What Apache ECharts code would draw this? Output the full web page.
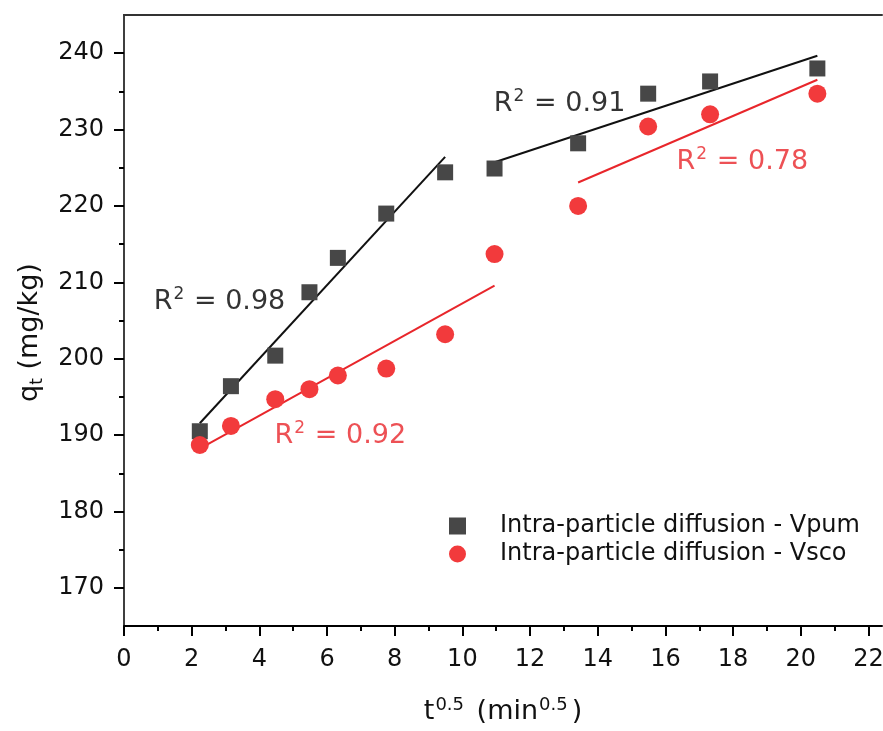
<!DOCTYPE html>
<html>
<head>
<meta charset="utf-8">
<script src="https://cdn.jsdelivr.net/npm/echarts@6/dist/echarts.min.js"></script>
<style>
  html, body { margin: 0; padding: 0; background: #fff; overflow: hidden; }
  #chart { width: 883px; height: 731px; }
</style>
</head>
<body>
<div id="chart"></div>
<script>
// --- data -----------------------------------------------------------------
const tValues = [2.24, 3.16, 4.47, 5.48, 6.32, 7.75, 9.49, 10.95, 13.42, 15.49, 17.32, 20.49];
const vpumValues = [190.5, 196.4, 200.4, 208.7, 213.2, 219.0, 224.4, 224.9, 228.2, 234.7, 236.3, 238.0];
const vscoValues = [188.7, 191.2, 194.7, 196.0, 197.8, 198.7, 203.2, 213.7, 220.0, 230.4, 232.0, 234.7];

// index ranges of the two linear stages for each series
const vpumStages = [[0, 6], [7, 11]];
const vscoStages = [[0, 7], [8, 11]];

const r2Texts = ["0.98", "0.92", "0.91", "0.78"];
const r2Anchors = [[0.88, 207.4], [4.45, 189.9], [10.93, 233.3], [16.33, 225.8]];

const xMajorTicks = [0, 2, 4, 6, 8, 10, 12, 14, 16, 18, 20, 22];
const xMinorTicks = [1, 3, 5, 7, 9, 11, 13, 15, 17, 19, 21];
const yMajorTicks = [170, 180, 190, 200, 210, 220, 230, 240];
const yMinorTicks = [175, 185, 195, 205, 215, 225, 235];

const seriesNames = ["Intra-particle diffusion - Vpum", "Intra-particle diffusion - Vsco"];

const FONT = "DejaVu Sans";
const BLACK_FIT = "#111111";
const RED_FIT = "#e8262b";

// least squares over one stage, returns the two ends of the fitted segment
function fitStage(xs, ys, range) {
  const [a, b] = range;
  const px = xs.slice(a, b + 1);
  const py = ys.slice(a, b + 1);
  const n = px.length;
  const mx = px.reduce((s, v) => s + v, 0) / n;
  const my = py.reduce((s, v) => s + v, 0) / n;
  let sxy = 0, sxx = 0;
  px.forEach((x, i) => { sxy += (x - mx) * (py[i] - my); sxx += (x - mx) * (x - mx); });
  const slope = sxy / sxx;
  const icpt = my - slope * mx;
  return [[px[0], icpt + slope * px[0]], [px[n - 1], icpt + slope * px[n - 1]]];
}

function fitSeries(stage, xs, ys, color) {
  return {
    type: "line",
    data: fitStage(xs, ys, stage),
    symbol: "none",
    silent: true,
    z: 1,
    lineStyle: { color: color, width: 2 },
    animation: false
  };
}

function zip(xs, ys) {
  return xs.map((x, i) => [x, ys[i]]);
}

const rich = {
  r: { fontFamily: FONT, fontSize: 27, lineHeight: 32 },
  s: { fontFamily: FONT, fontSize: 17, lineHeight: 28, verticalAlign: "top", padding: [0, 1, 0, 1] }
};
function r2Rich(color) {
  const out = {};
  Object.keys(rich).forEach((k) => { out[k] = Object.assign({}, rich[k], { color: color }); });
  return out;
}
const r2Colors = ["#000000", RED_FIT, "#000000", RED_FIT];

const chart = echarts.init(document.getElementById("chart"), null, { renderer: "canvas", width: 883, height: 731 });

const hiddenAxisBits = { axisTick: { show: false }, axisLabel: { show: false }, splitLine: { show: false } };

chart.setOption({
  animation: false,
  backgroundColor: "#ffffff",
  grid: { left: 124, right: 1, top: 15, bottom: 105, containLabel: false, outerBoundsMode: "none" },
  legend: {
    data: [
      { name: seriesNames[0], icon: "rect" },
      { name: seriesNames[1], icon: "circle" }
    ],
    orient: "vertical",
    left: 444,
    top: 507,
    itemWidth: 17,
    itemHeight: 17,
    itemGap: 0,
    selectedMode: false,
    textStyle: { fontFamily: FONT, fontSize: 24, color: "#111", lineHeight: 28, padding: [0, 0, 0, 29] }
  },
  xAxis: [
    {
      type: "value", position: "bottom", min: 0, max: 22.4,
      name: "{t|t}{s|0.5}{t| (min}{s|0.5}{t|)}",
      nameLocation: "middle", nameGap: 70,
      nameTextStyle: {
        rich: {
          t: { fontFamily: FONT, fontSize: 27, lineHeight: 32, color: "#111" },
          s: { fontFamily: FONT, fontSize: 18, lineHeight: 30, verticalAlign: "top", color: "#111", padding: [0, 4, 0, 1] }
        }
      },
      axisLine: { show: true, lineStyle: { color: "#000", width: 2 } },
      axisTick: { show: true, inside: false, length: 10, customValues: xMajorTicks, lineStyle: { color: "#000", width: 2 } },
      axisLabel: { customValues: xMajorTicks, margin: 22, fontFamily: FONT, fontSize: 24, color: "#111" },
      splitLine: { show: false }
    },
    {
      type: "value", position: "bottom", min: 0, max: 22.4,
      axisLine: { show: false },
      axisTick: { show: true, inside: false, length: 5, customValues: xMinorTicks, lineStyle: { color: "#000", width: 2 } },
      axisLabel: { show: false },
      splitLine: { show: false }
    },
    Object.assign({ type: "value", position: "top", min: 0, max: 22.4,
      axisLine: { show: true, lineStyle: { color: "#333", width: 2 } } }, hiddenAxisBits)
  ],
  yAxis: [
    {
      type: "value", position: "left", min: 165, max: 245,
      name: "{t|q}{b|t}{t| (mg/kg)}",
      nameLocation: "middle", nameGap: 78, nameRotate: 90,
      nameTextStyle: {
        padding: [0, 24, 0, 0],
        rich: {
          t: { fontFamily: FONT, fontSize: 27, lineHeight: 32, color: "#111" },
          b: { fontFamily: FONT, fontSize: 17, lineHeight: 32, verticalAlign: "bottom", color: "#111" }
        }
      },
      axisLine: { show: true, lineStyle: { color: "#000", width: 2 } },
      axisTick: { show: true, inside: false, length: 10, customValues: yMajorTicks, lineStyle: { color: "#000", width: 2 } },
      axisLabel: { customValues: yMajorTicks, margin: 20, fontFamily: FONT, fontSize: 24, color: "#111" },
      splitLine: { show: false }
    },
    {
      type: "value", position: "left", min: 165, max: 245,
      axisLine: { show: false },
      axisTick: { show: true, inside: false, length: 5, customValues: yMinorTicks, lineStyle: { color: "#000", width: 2 } },
      axisLabel: { show: false },
      splitLine: { show: false }
    },
    Object.assign({ type: "value", position: "right", min: 165, max: 245,
      axisLine: { show: true, lineStyle: { color: "#555", width: 1.5 } } }, hiddenAxisBits)
  ],
  series: [
    ...vpumStages.map((st) => fitSeries(st, tValues, vpumValues, BLACK_FIT)),
    ...vscoStages.map((st) => fitSeries(st, tValues, vscoValues, RED_FIT)),
    {
      name: seriesNames[0],
      type: "scatter",
      data: zip(tValues, vpumValues),
      symbol: "rect",
      symbolSize: 16,
      itemStyle: { color: "#474747", opacity: 1 },
      z: 2
    },
    {
      name: seriesNames[1],
      type: "scatter",
      data: zip(tValues, vscoValues),
      symbol: "circle",
      symbolSize: 18,
      itemStyle: { color: "#f23a3c", opacity: 1 },
      z: 3
    },
    {
      type: "scatter",
      silent: true,
      symbolSize: 0,
      z: 5,
      data: r2Anchors.map((p, i) => ({
        value: p,
        label: {
          show: true,
          position: "right",
          distance: 0,
          formatter: "{r|R}{s|2}{r| = " + r2Texts[i] + "}",
          rich: r2Rich(r2Colors[i])
        }
      }))
    }
  ]
});
</script>
</body>
</html>
